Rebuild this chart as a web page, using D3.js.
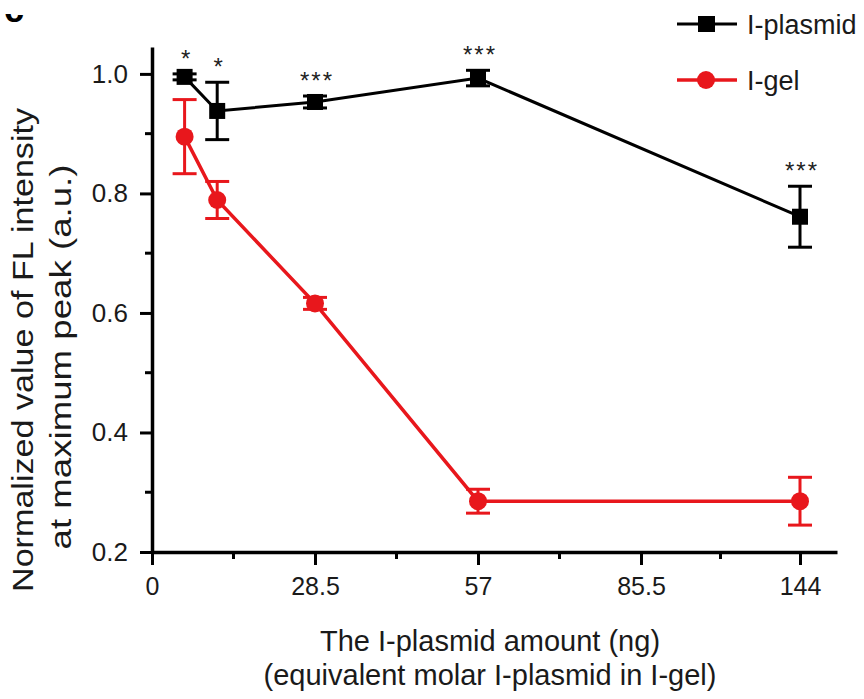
<!DOCTYPE html>
<html>
<head>
<meta charset="utf-8">
<script src="https://cdn.jsdelivr.net/npm/d3@7/dist/d3.min.js"></script>
<style>
  html, body { margin:0; padding:0; background:#fff; }
  svg { display:block; font-family:"Liberation Sans", Arial, sans-serif; }
</style>
</head>
<body>
<div id="chart"></div>
<script>
// values
const doses = [5.7, 11.4, 28.5, 57, 144];
const plasmidMean = [0.995, 0.938, 0.953, 0.993, 0.761];
const plasmidErr  = [0.005, 0.048, 0.010, 0.013, 0.051];
const gelMean = [0.895, 0.789, 0.616, 0.285, 0.285];
const gelErr  = [0.062, 0.031, 0.010, 0.020, 0.040];
const stars = ["*", "*", "***", "***", "***"];

const xTicks = [0, 28.5, 57, 85.5, 144];
const xMinor = [14.25, 42.75, 71.25, 114.75];
const yTicks = [0.2, 0.4, 0.6, 0.8, 1.0];
const yMinor = [0.3, 0.5, 0.7, 0.9];

const W = 864, H = 699;
const RED = "#e8171c";

const svg = d3.select("#chart").append("svg")
  .attr("width", W).attr("height", H);

// broken x axis: last segment 85.5 -> 144 drawn as one tick step
const x = d3.scaleLinear()
  .domain([0, 85.5, 144, 157.4])
  .range([152, 641, 800, 837]);

const y = d3.scaleLinear()
  .domain([0.2, 1.045])
  .range([552, 47]);

// panel letter, mostly cut off at the top
svg.append("defs").append("clipPath").attr("id", "cut")
  .append("rect").attr("x", 0).attr("y", 14).attr("width", 40).attr("height", 20);
svg.append("text")
  .attr("clip-path", "url(#cut)")
  .attr("x", 4).attr("y", 22)
  .style("font-size", "36px").style("font-weight", "bold")
  .text("c");

// axes
const xAxis = svg.append("g")
  .attr("transform", `translate(0,${y(0.2)})`)
  .call(d3.axisBottom(x).tickValues(xTicks).tickSize(13).tickPadding(12)
    .tickSizeOuter(0).tickFormat(d => d));
xAxis.selectAll(".tick text")
  .style("font-size", "25px").attr("fill", "#1a1a1a");

xAxis.selectAll(".minor").data(xMinor).join("line")
  .attr("class", "minor")
  .attr("x1", d => x(d)).attr("x2", d => x(d))
  .attr("y1", 0).attr("y2", 7)
  .attr("stroke", "#000").attr("stroke-width", 3);

const yAxis = svg.append("g")
  .attr("transform", `translate(${x(0)},0)`)
  .call(d3.axisLeft(y).tickValues(yTicks).tickSize(12).tickPadding(12)
    .tickSizeOuter(0).tickFormat(d3.format(".1f")));
yAxis.selectAll(".tick text")
  .style("font-size", "26px").attr("fill", "#1a1a1a");

yAxis.selectAll(".minor").data(yMinor).join("line")
  .attr("class", "minor")
  .attr("x1", -7).attr("x2", 0)
  .attr("y1", d => y(d)).attr("y2", d => y(d))
  .attr("stroke", "#000").attr("stroke-width", 3);

svg.selectAll(".domain").attr("stroke", "#000").attr("stroke-width", 3.5);
svg.selectAll(".tick line").attr("stroke", "#000").attr("stroke-width", 3);

// axis titles
svg.append("text")
  .attr("transform", "translate(33,350) rotate(-90)")
  .attr("text-anchor", "middle")
  .attr("textLength", 484).attr("lengthAdjust", "spacingAndGlyphs")
  .style("font-size", "30px").attr("fill", "#1a1a1a")
  .text("Normalized value of FL intensity");
svg.append("text")
  .attr("transform", "translate(71,357) rotate(-90)")
  .attr("text-anchor", "middle")
  .attr("textLength", 385).attr("lengthAdjust", "spacingAndGlyphs")
  .style("font-size", "30px").attr("fill", "#1a1a1a")
  .text("at maximum peak (a.u.)");

svg.append("text")
  .attr("x", 490).attr("y", 651)
  .attr("text-anchor", "middle")
  .style("font-size", "29px").attr("fill", "#1a1a1a")
  .text("The I-plasmid amount (ng)");
svg.append("text")
  .attr("x", 490).attr("y", 685)
  .attr("text-anchor", "middle")
  .style("font-size", "29px").attr("fill", "#1a1a1a")
  .text("(equivalent molar I-plasmid in I-gel)");

// series
const series = [
  { name: "I-plasmid", mean: plasmidMean, err: plasmidErr, color: "#000", shape: "square", width: 3 },
  { name: "I-gel", mean: gelMean, err: gelErr, color: RED, shape: "circle", width: 3.5 }
];

const line = d3.line().x(d => x(d.x)).y(d => y(d.y));

series.slice().reverse().forEach(s => {
  const pts = doses.map((d, i) => ({ x: d, y: s.mean[i], e: s.err[i] }));
  const g = svg.append("g");

  g.append("path")
    .datum(pts)
    .attr("d", line)
    .attr("fill", "none")
    .attr("stroke", s.color)
    .attr("stroke-width", s.width);

  const eb = g.selectAll(".eb").data(pts).join("g").attr("class", "eb");
  eb.append("line")
    .attr("x1", d => x(d.x)).attr("x2", d => x(d.x))
    .attr("y1", d => y(d.y - d.e)).attr("y2", d => y(d.y + d.e))
    .attr("stroke", s.color).attr("stroke-width", 3);
  [-1, 1].forEach(sign => {
    eb.append("line")
      .attr("x1", d => x(d.x) - 12).attr("x2", d => x(d.x) + 12)
      .attr("y1", d => y(d.y + sign * d.e)).attr("y2", d => y(d.y + sign * d.e))
      .attr("stroke", s.color).attr("stroke-width", 3);
  });

  if (s.shape === "square") {
    g.selectAll(".mk").data(pts).join("rect").attr("class", "mk")
      .attr("x", d => x(d.x) - 8).attr("y", d => y(d.y) - 8)
      .attr("width", 16).attr("height", 16)
      .attr("fill", s.color);
  } else {
    g.selectAll(".mk").data(pts).join("circle").attr("class", "mk")
      .attr("cx", d => x(d.x)).attr("cy", d => y(d.y))
      .attr("r", 9)
      .attr("fill", s.color);
  }
});

// significance marks above the I-plasmid error bars
svg.selectAll(".sig").data(doses).join("text")
  .attr("class", "sig")
  .attr("x", d => x(d) + 2)
  .attr("y", (d, i) => y(plasmidMean[i] + plasmidErr[i]) - 7)
  .attr("text-anchor", "middle")
  .style("font-size", "24px")
  .style("letter-spacing", "2px")
  .attr("fill", "#222")
  .text((d, i) => stars[i]);

// legend
const legend = svg.append("g");
series.forEach((s, i) => {
  const ly = 24 + i * 56;
  legend.append("line")
    .attr("x1", 677).attr("x2", 737).attr("y1", ly).attr("y2", ly)
    .attr("stroke", s.color).attr("stroke-width", s.width);
  if (s.shape === "square") {
    legend.append("rect")
      .attr("x", 698).attr("y", ly - 8).attr("width", 17).attr("height", 16)
      .attr("fill", s.color);
  } else {
    legend.append("circle")
      .attr("cx", 706).attr("cy", ly).attr("r", 9)
      .attr("fill", s.color);
  }
  legend.append("text")
    .attr("x", 747).attr("y", ly + 10)
    .style("font-size", "27px").attr("fill", "#1a1a1a")
    .text(s.name);
});
</script>
</body>
</html>
